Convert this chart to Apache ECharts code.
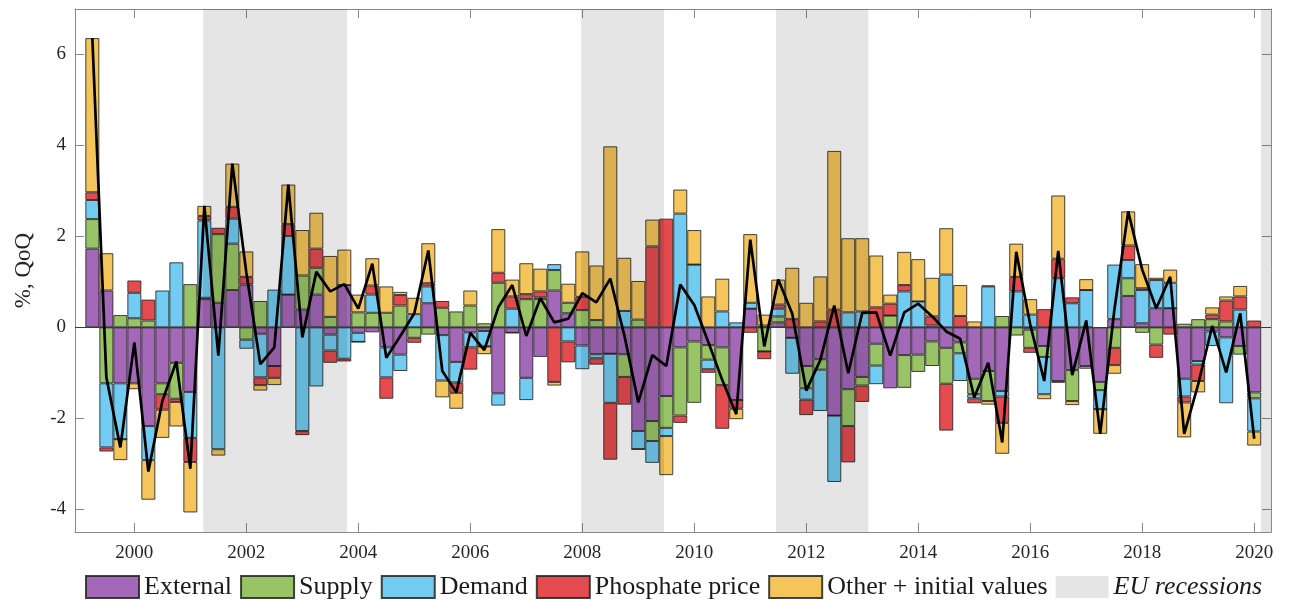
<!DOCTYPE html>
<html><head><meta charset="utf-8">
<script src="https://cdn.jsdelivr.net/npm/echarts@6/dist/echarts.min.js"></script>
<style>html,body{margin:0;padding:0;background:#fff}#c{width:1295px;height:601px}</style>
</head><body><div id="c"></div>
<script>
const quarters = [
 '1999Q1','1999Q2','1999Q3','1999Q4','2000Q1','2000Q2','2000Q3','2000Q4','2001Q1','2001Q2','2001Q3','2001Q4',
 '2002Q1','2002Q2','2002Q3','2002Q4','2003Q1','2003Q2','2003Q3','2003Q4','2004Q1','2004Q2','2004Q3','2004Q4',
 '2005Q1','2005Q2','2005Q3','2005Q4','2006Q1','2006Q2','2006Q3','2006Q4','2007Q1','2007Q2','2007Q3','2007Q4',
 '2008Q1','2008Q2','2008Q3','2008Q4','2009Q1','2009Q2','2009Q3','2009Q4','2010Q1','2010Q2','2010Q3','2010Q4',
 '2011Q1','2011Q2','2011Q3','2011Q4','2012Q1','2012Q2','2012Q3','2012Q4','2013Q1','2013Q2','2013Q3','2013Q4',
 '2014Q1','2014Q2','2014Q3','2014Q4','2015Q1','2015Q2','2015Q3','2015Q4','2016Q1','2016Q2','2016Q3','2016Q4',
 '2017Q1','2017Q2','2017Q3','2017Q4','2018Q1','2018Q2','2018Q3','2018Q4','2019Q1','2019Q2','2019Q3','2019Q4'];

const external = [1.73,0.81,-1.23,-1.23,-2.17,-1.23,-0.78,-1.42,0.62,0.54,
 0.82,0.94,-0.14,-0.85,0.72,0.39,0.72,-0.16,0.93,-0.12,
 -0.11,-0.44,-0.60,0,0.53,-0.17,-0.76,-0.11,-0.08,-1.45,
 -0.12,-1.11,-0.65,0.81,0.31,-0.40,-0.59,-0.58,-0.59,-2.28,
 -2.06,-1.51,-0.44,-0.31,-0.39,-0.44,-1.60,0.41,0.04,0.11,
 -0.23,-0.85,-0.70,-1.94,-1.36,-1.09,-0.36,-1.34,-0.61,-0.60,
 -0.31,-0.45,-0.33,-1.13,-0.96,-1.40,0,-0.05,-0.41,-1.18,
 -0.94,-0.85,-1.20,0.18,0.69,0.09,0.42,0.42,-1.13,-0.74,
 -0.09,-0.22,-0.41,-1.43];
const supply = [0.65,-1.23,0.27,0.20,0.15,-0.24,-0.79,0.95,0.03,1.51,
 1.02,-0.27,0.58,0,0,0.75,0.59,0.23,0,0.33,
 0.32,0.32,0.48,-0.23,-0.16,0.43,0.35,0.48,0.09,0.98,
 0,0.62,0.62,0.45,0.23,0.38,0.16,0,-0.50,0.17,
 -0.44,-0.70,-1.50,-1.35,-0.32,-0.83,0,0,-0.53,0.13,
 0,-0.49,-0.23,0,-0.81,-0.19,-0.48,0.26,-0.72,-0.38,
 -0.54,-0.79,-0.24,-0.34,-0.66,0.25,-0.18,-0.40,-0.24,-0.04,
 -0.68,-0.06,-0.18,-0.45,0.39,-0.12,-0.38,0,0.08,0.18,
 0.18,0.13,-0.19,-0.13];
const demand = [0.42,-1.41,-1.23,0.56,-0.75,0.81,1.43,-1.01,1.70,-2.68,
 0.55,-0.20,-0.96,0.83,1.29,-2.28,-1.30,-0.35,-0.69,-0.20,
 0.40,-0.66,-0.36,0.29,0.37,-1.00,-0.45,-0.33,-0.34,-0.27,
 0.41,-0.49,0.04,0.13,-0.31,-0.52,-0.09,-1.08,0.36,-0.40,
 -0.48,-0.18,2.50,1.38,-0.21,0.35,0.11,0.13,0,0.17,
 -0.79,-0.25,-0.91,-1.46,0.33,0.35,-0.41,0,0.79,0.57,
 0.04,1.16,-0.61,-0.09,0.90,-0.12,0.79,0.28,-0.82,1.08,
 0.53,0.82,-0.42,1.20,0.40,0.73,0.62,0.56,-0.39,-0.08,
 -0.32,-1.45,0.39,-0.73];
const phosphate = [0.17,-0.09,0,0.27,0.46,-0.34,-0.07,-0.53,0.10,0.14,
 0.26,0.17,-0.17,-0.26,0.26,-0.09,0.42,-0.27,-0.06,0,
 0.20,-0.47,0.23,-0.11,0.07,0.15,-0.23,-0.49,0,0.22,
 0.27,0.11,0.13,-1.20,-0.46,0.29,-0.14,-1.25,-0.61,0,
 1.78,2.39,-0.16,0,-0.08,-0.96,-0.19,-0.12,-0.17,0.09,
 0.18,-0.34,0.13,0.39,-0.80,-0.36,0.44,0.26,0.14,0,
 0.20,-1.03,0.25,-0.11,0.02,-0.58,0.32,-0.11,0.40,0.43,
 0.13,0,0,-0.38,0.32,0.04,-0.29,-0.16,-0.13,-0.36,
 0.10,0.46,0.29,0.15];
const other = [3.39,0.82,-0.46,-0.13,-0.87,-0.62,-0.54,-1.11,0.22,-0.14,
 0.95,0.56,-0.12,-0.16,0.87,1.00,0.79,1.34,0.78,0.39,
 0.60,0.58,0.07,0.36,0.88,-0.37,-0.35,0.33,-0.17,0.96,
 0.37,0.68,0.50,-0.08,0.42,1.00,1.20,3.98,1.17,0.85,
 0.59,-0.86,0.53,0.76,0.68,0.72,-0.23,1.51,0.24,0.55,
 1.13,0.54,0.99,3.49,1.63,1.61,1.14,0.20,0.73,0.93,
 0.85,1.02,0.68,0.13,-0.08,-0.68,0.73,0.34,-0.11,1.39,
 -0.09,0.24,-0.54,-0.19,0.75,0.53,0.05,0.29,-0.77,-0.25,
 0.16,0.09,0.23,-0.31];
const total = [6.36,-1.10,-2.64,-0.33,-3.17,-1.62,-0.75,-3.11,2.67,-0.62,
 3.60,1.20,-0.81,-0.44,3.14,-0.22,1.22,0.79,0.95,0.41,
 1.40,-0.67,-0.19,0.31,1.69,-0.96,-1.43,-0.12,-0.50,0.44,
 0.93,-0.19,0.64,0.11,0.19,0.75,0.55,1.07,-0.17,-1.65,
 -0.61,-0.85,0.94,0.49,-0.32,-1.16,-1.91,1.93,-0.42,1.05,
 0.30,-1.39,-0.72,0.48,-1.01,0.32,0.33,-0.62,0.33,0.52,
 0.24,-0.09,-0.25,-1.54,-0.78,-2.53,1.66,0.06,-1.18,1.68,
 -1.05,0.15,-2.34,0.36,2.55,1.27,0.42,1.11,-2.34,-1.25,
 0.03,-0.99,0.31,-2.45];
const recessions = [[2001.23,2003.80],[2007.98,2009.46],[2011.46,2013.11],[2020.12,2020.30]];
const xTicks = [2000,2002,2004,2006,2008,2010,2012,2014,2016,2018,2020];
const yTicks = [-4,-2,0,2,4,6];
const seriesNames = ['External','Supply','Demand','Phosphate price','Other + initial values'];
const seriesColors = ['#A468B8','#99C466','#72CBF1','#E44B4F','#F4C55A'];

// position of a quarter on the time axis (end of quarter)
const xs = quarters.map(q => +q.slice(0,4) + (+q.slice(5)) / 4);

const FONT = 'Liberation Serif';
const X_MIN = 1998.94, X_MAX = 2020.30, Y_MIN = -4.5, Y_MAX = 7;
const frame = '#8a8a8a';

const chart = echarts.init(document.getElementById('c'), null, {renderer: 'canvas'});

// value first, position second, so that the value dimension is the stacked one
const barSeries = [external, supply, demand, phosphate, other].map((arr, k) => ({
  type: 'bar', name: seriesNames[k], stack: 'all', stackStrategy: 'samesign',
  data: arr.map((v, i) => [v, xs[i]]), encode: {x: 1, y: 0},
  barWidth: 14, z: 2,
  itemStyle: {color: seriesColors[k], borderColor: 'rgba(35,35,35,0.85)', borderWidth: 1},
  emphasis: {disabled: true}
}));
barSeries[0].markLine = {
  silent: true, symbol: 'none', z: 6,
  lineStyle: {color: '#3a3a3a', width: 1, type: 'solid'},
  label: {show: false},
  data: [{yAxis: 0}]
};

const recessionSeries = {
  type: 'custom', name: 'EU recessions', z: 3, silent: true,
  data: recessions,
  itemStyle: {color: 'rgba(0,0,0,0.10)', borderWidth: 0},
  renderItem: function (params, api) {
    const cs = params.coordSys;
    const a = api.coord([api.value(0), Y_MAX]);
    const b = api.coord([api.value(1), Y_MIN]);
    const rect = echarts.graphic.clipRectByRect(
      {x: a[0], y: cs.y, width: b[0] - a[0], height: cs.height},
      {x: cs.x, y: cs.y, width: cs.width, height: cs.height});
    if (!rect) return;
    return {type: 'rect', shape: rect, style: {fill: 'rgba(0,0,0,0.10)'}};
  }
};

const lineSeries = {
  type: 'line', name: 'Total', data: total.map((v, i) => [xs[i], v]), z: 10,
  showSymbol: false, symbol: 'none',
  lineStyle: {color: '#000', width: 2.7},
  itemStyle: {color: '#000'},
  emphasis: {disabled: true}
};

const tickCommon = {show: true, inside: true, length: 9, lineStyle: {color: frame, width: 1}};

chart.setOption({
  animation: false,
  backgroundColor: '#fff',
  grid: {left: 75, right: 24, top: 9, bottom: 69, containLabel: false},
  legend: {
    top: 569, left: 80, icon: 'rect', itemWidth: 53, itemHeight: 22, itemGap: 8,
    textStyle: {fontFamily: FONT, fontSize: 26, color: '#1a1a1a'},
    data: [
      {name: 'External'}, {name: 'Supply'}, {name: 'Demand'}, {name: 'Phosphate price'},
      {name: 'Other + initial values'},
      {name: 'EU recessions', textStyle: {fontStyle: 'italic'}}
    ]
  },
  xAxis: [
    {type: 'value', min: X_MIN, max: X_MAX, position: 'bottom',
     axisLine: {show: true, onZero: false, lineStyle: {color: frame, width: 1}},
     axisTick: Object.assign({customValues: xTicks}, tickCommon),
     axisLabel: {customValues: xTicks, formatter: v => String(v), fontFamily: FONT, fontSize: 19, color: '#262626', margin: 12},
     splitLine: {show: false}},
    {type: 'value', min: X_MIN, max: X_MAX, position: 'top',
     axisLine: {show: true, onZero: false, lineStyle: {color: frame, width: 1}},
     axisTick: Object.assign({customValues: xTicks}, tickCommon),
     axisLabel: {show: false}, splitLine: {show: false}}
  ],
  yAxis: [
    {type: 'value', min: Y_MIN, max: Y_MAX, position: 'left',
     name: '%, QoQ', nameLocation: 'middle', nameGap: 40, nameRotate: 90,
     nameTextStyle: {fontFamily: FONT, fontSize: 23, color: '#262626'},
     axisLine: {show: true, onZero: false, lineStyle: {color: frame, width: 1}},
     axisTick: Object.assign({customValues: yTicks}, tickCommon),
     axisLabel: {customValues: yTicks, fontFamily: FONT, fontSize: 19, color: '#262626', margin: 9},
     splitLine: {show: false}},
    {type: 'value', min: Y_MIN, max: Y_MAX, position: 'right',
     axisLine: {show: true, onZero: false, lineStyle: {color: frame, width: 1}},
     axisTick: Object.assign({customValues: yTicks}, tickCommon),
     axisLabel: {show: false}, splitLine: {show: false}}
  ],
  series: barSeries.concat([recessionSeries, lineSeries])
});
</script></body></html>
